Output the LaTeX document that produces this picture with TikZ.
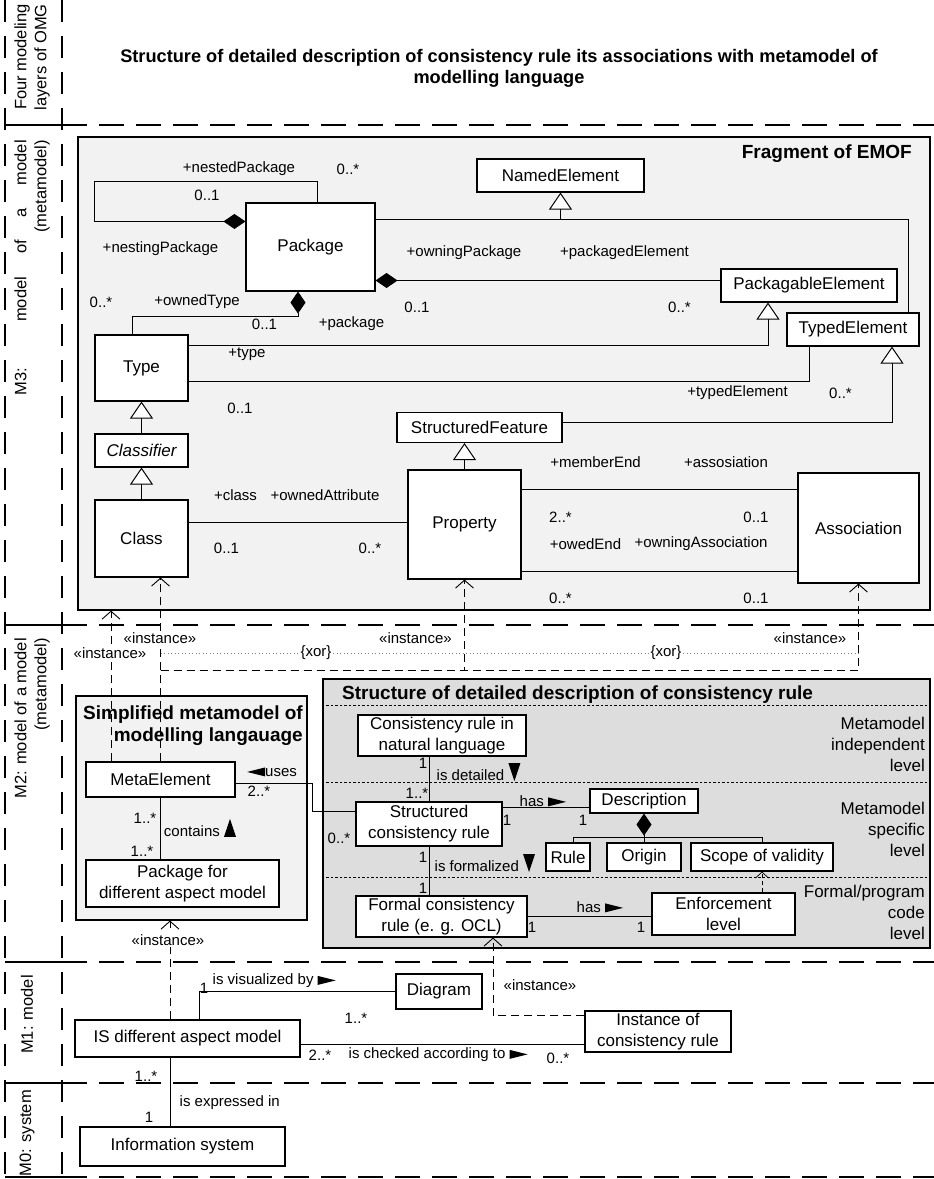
\documentclass[tikz,border=0pt]{standalone}
\usepackage{fontspec}
\setmainfont{Liberation Sans}
\usetikzlibrary{arrows.meta,positioning,calc}

\definecolor{emofgray}{RGB}{242,242,242}
\definecolor{rulegray}{RGB}{221,221,221}

% small filled pointers used beside association names
\newcommand{\pointR}{\tikz[baseline=0pt]\fill (0pt,0pt) -- (18pt,4.5pt) -- (0pt,9pt) -- cycle;}
\newcommand{\pointL}{\tikz[baseline=0pt]\fill (18pt,0pt) -- (0pt,4.5pt) -- (18pt,9pt) -- cycle;}
\newcommand{\pointD}{\tikz[baseline=0pt]\fill (0pt,17pt) -- (12pt,17pt) -- (6pt,-1pt) -- cycle;}
\newcommand{\pointU}{\tikz[baseline=0pt]\fill (0pt,0pt) -- (12pt,0pt) -- (6pt,18pt) -- cycle;}

\begin{document}
\begin{tikzpicture}[x=1pt,y=-1pt,line join=miter,
  cls/.style={draw,fill=white,line width=1.1pt,inner sep=0pt,align=center,font=\fontsize{17}{21}\selectfont},
  lbl/.style={inner sep=0.5pt,font=\fontsize{15}{18}\selectfont},
  head/.style={inner sep=0pt,align=right,font=\fontsize{19}{22}\selectfont\bfseries},
  lvl/.style={inner sep=0pt,align=right,anchor=east,font=\fontsize{17}{21}\selectfont},
  band/.style={inner sep=0pt,rotate=90,anchor=east,align=right,font=\fontsize{16.5}{20}\selectfont},
  link/.style={line width=0.9pt},
  gen/.style={link,-{Triangle[length=17pt,width=23pt,fill=white,line width=1pt]}},
  ownstart/.style={link,{Diamond[length=22pt,width=15pt]}-},
  ownend/.style={link,-{Diamond[length=22pt,width=15pt]}},
  inst/.style={link,dash pattern=on 8pt off 5pt,-{Straight Barb[length=8pt,width=18pt,line width=0.9pt]}},
  inst2/.style={line width=0.7pt,dash pattern=on 4pt off 3pt,-{Straight Barb[length=6pt,width=13pt,line width=0.7pt]}},
  xorline/.style={line width=0.8pt,gray,dash pattern=on 1pt off 2.5pt},
  levelline/.style={line width=1.1pt,dash pattern=on 2.5pt off 2pt},
  sep/.style={line width=1.4pt,dash pattern=on 25pt off 12pt},
  bandside/.style={line width=1.2pt,dash pattern=on 22pt off 14pt}]
\useasboundingbox (0,0) rectangle (934,1179);

% layers of OMG
\foreach \bx in {5,62}
  \draw[bandside] (\bx,0) -- (\bx,1177);
\foreach \sy in {125,625,962,1083,1177} {
  \draw[line width=1.2pt] (5,\sy) -- (62,\sy);
  \draw[sep] (62,\sy) -- (934,\sy);
}
\node[band] (fourlbl) at (32,4) {Four modeling\\layers of OMG};
\node[band] (m3lbl) at (32,140) {\makebox[255pt][s]{M3:\ \ model of a model}\\(metamodel)};
\node[band] (m2lbl) at (32,638) {M2: model of a model\\(metamodel)};
\node[band] (m1lbl) at (27,975) {M1: model};
\node[band] (m0lbl) at (27,1090) {M0: system};

\node[inner sep=0pt,align=center,font=\fontsize{18.2}{21}\selectfont\bfseries] (title) at (499,68)
  {Structure of detailed description of consistency rule its associations with metamodel of\\modelling language};

% M3: fragment of EMOF
\node[draw,fill=emofgray,line width=1.2pt,minimum width=852pt,minimum height=473pt,inner sep=0pt] (emof) at (504,373.5) {};
\node[head,anchor=east] (emoftitle) at (912,154) {Fragment of EMOF};

\node[cls,minimum width=167pt,minimum height=33pt] (named) at (560.5,175.5) {NamedElement};
\node[cls,minimum width=129pt,minimum height=88pt] (pkg) at (310.5,247) {Package};
\node[cls,minimum width=176pt,minimum height=33pt] (packable) at (809,285.5) {PackagableElement};
\node[cls,minimum width=132pt,minimum height=33pt] (typed) at (853,329.5) {TypedElement};
\node[cls,minimum width=93pt,minimum height=66pt] (type) at (141.5,368) {Type};
\node[cls,minimum width=93pt,minimum height=33pt,font=\fontsize{17}{21}\selectfont\itshape] (classifier) at (141.5,450.5) {Classifier};
\node[cls,minimum width=93pt,minimum height=77pt] (class) at (141.5,538.5) {Class};
\node[cls,minimum width=165pt,minimum height=30pt] (sfeat) at (479.5,427.5) {StructuredFeature};
\node[cls,minimum width=113pt,minimum height=109pt] (prop) at (464.5,524.5) {Property};
\node[cls,minimum width=121pt,minimum height=110pt] (assoc) at (858.5,528) {Association};

\draw[ownstart] ([yshift=-19pt]pkg.north west) -- ++(-151,0) -- ++(0,-40) -| ([xshift=6.5pt]pkg.north);
\draw[ownstart] ([yshift=5pt]pkg.east |- packable.west) -- ([yshift=5pt]packable.west);
\coordinate (namedjoin) at (named.south |- 0,219);
\draw[link] (pkg.east |- namedjoin) -| ([xshift=55pt]typed.north);
\draw[gen] (namedjoin) -- (named.south);
\draw[gen] ([yshift=-11pt]type.north east) -| ([xshift=-41pt]packable.south);
\draw[link] ([yshift=20pt]type.south east) -| ([xshift=-44pt]typed.south);
\draw[ownend] ([xshift=-9.5pt]type.north) -- ++(0,-18) -| ([xshift=-12.5pt]pkg.south);
\draw[gen] (classifier.north) -- (type.south);
\draw[gen] (class.north) -- (classifier.south);
\draw[gen] ([yshift=5.5pt]sfeat.east) -| ([xshift=39pt]typed.south);
\draw[gen] (prop.north) -- (prop.north |- sfeat.south);
\draw[link] ([yshift=16.5pt]class.east) -- ([yshift=16.5pt]class.east -| prop.west);
\draw[link] ([yshift=35.5pt]prop.east) -- ([yshift=35.5pt]prop.east -| assoc.west);
\draw[link] ([yshift=-46.5pt]prop.east) -- ([yshift=-46.5pt]prop.east -| assoc.west);

\node[lbl] (nestedlbl) at (239,169) {+nestedPackage};
\node[lbl] (nestedmul) at (348,169) {0..*};
\node[lbl] (nestingmul) at (207,195) {0..1};
\node[lbl] (nestinglbl) at (160.5,249) {+nestingPackage};
\node[lbl] (owninglbl) at (464,253) {+owningPackage};
\node[lbl] (packagedlbl) at (624.5,253) {+packagedElement};
\node[lbl] (owningmul) at (417,307) {0..1};
\node[lbl] (packagedmul) at (679.5,307) {0..*};
\node[lbl] (ownedtypemul) at (101,302) {0..*};
\node[lbl] (ownedtypelbl) at (197,302) {+ownedType};
\node[lbl] (packagemul) at (264.5,324) {0..1};
\node[lbl] (packagelbl) at (351.5,324) {+package};
\node[lbl] (typelbl) at (247,354) {+type};
\node[lbl] (typedlbl) at (737.5,393) {+typedElement};
\node[lbl] (typedmul) at (840.5,393) {0..*};
\node[lbl] (typemul) at (240,408) {0..1};
\node[lbl] (classlbl) at (235.5,495) {+class};
\node[lbl] (ownedattrlbl) at (325,495) {+ownedAttribute};
\node[lbl] (classmul) at (226.5,548) {0..1};
\node[lbl] (ownedattrmul) at (370,548) {0..*};
\node[lbl] (memberlbl) at (595.5,462) {+memberEnd};
\node[lbl] (assoclbl) at (726,462) {+assosiation};
\node[lbl] (membermul) at (560.5,517) {2..*};
\node[lbl] (assocmul) at (756,517) {0..1};
\node[lbl] (owedlbl) at (585.5,544) {+owedEnd};
\node[lbl] (owningassoclbl) at (701,544) {+owningAssociation};
\node[lbl] (owedmul) at (560.5,598) {0..*};
\node[lbl] (owningassocmul) at (756,598) {0..1};

% M2: metamodel
\node[draw,fill=emofgray,line width=1.1pt,minimum width=231pt,minimum height=224pt,inner sep=0pt] (simplified) at (191.5,808) {};
\node[head,anchor=east] (simpletitle) at (303,726) {Simplified metamodel of\\modelling langauage};
\node[draw,fill=rulegray,line width=1.1pt,minimum width=607pt,minimum height=269pt,inner sep=0pt] (structbox) at (626.5,813.5) {};
\node[head,anchor=west] (structtitle) at (342,695) {Structure of detailed description of consistency rule};
\foreach \dy in {27,104,199}
  \draw[levelline] ([xshift=4pt,yshift=-\dy pt]structbox.north west) -- ([xshift=-2pt,yshift=-\dy pt]structbox.north east);
\node[lvl] (lvlindep) at (925,744) {Metamodel\\independent\\level};
\node[lvl] (lvlspec) at (925,829) {Metamodel\\specific\\level};
\node[lvl] (lvlformal) at (925,912) {Formal/program\\code\\level};

\node[cls,minimum width=149pt,minimum height=35pt] (meta) at (160.5,779.5) {MetaElement};
\node[cls,minimum width=193pt,minimum height=47pt] (pkgfor) at (182.5,883.5) {Package for\\different aspect model};
\node[cls,minimum width=168pt,minimum height=41pt] (natural) at (442,735.5) {Consistency rule in\\natural language};
\node[cls,minimum width=146pt,minimum height=44pt] (structured) at (429,824) {Structured\\consistency rule};
\node[cls,minimum width=108pt,minimum height=24pt] (descr) at (644,801) {Description};
\node[cls,minimum width=44pt,minimum height=28pt] (rule) at (568,857) {Rule};
\node[cls,minimum width=74pt,minimum height=28pt] (origin) at (644,857) {Origin};
\node[cls,minimum width=142pt,minimum height=28pt] (scope) at (762,857) {Scope of validity};
\node[cls,minimum width=171pt,minimum height=41pt] (formal) at (441.5,916.5) {Formal consistency\\rule (e. g. OCL)};
\node[cls,minimum width=143pt,minimum height=42pt] (enforce) at (723.5,914) {Enforcement\\level};

\draw[link] (meta.south) -- (meta.south |- pkgfor.north);
\draw[link] ([yshift=-3.5pt]meta.east) -- ++(77,0) |- ([yshift=13pt]structured.west);
\draw[link] (structured.north |- natural.south) -- (structured.north);
\draw[link] ([yshift=17pt]structured.east) -- ([yshift=17pt]structured.east -| descr.west);
\coordinate (descjoin) at (descr.south |- 0,837);
\draw[ownstart] (descr.south) -- (descjoin);
\draw[link] ([xshift=5pt]rule.north) |- (descjoin) -| (scope.north);
\draw[link] (origin.north) -- (descjoin);
\draw[link] (structured.south) -- (structured.south |- formal.north);
\draw[link] (formal.east) -- (formal.east -| enforce.west);
\draw[inst2] (enforce.north -| scope.south) -- (scope.south);

\node[lbl] (containsmulA) at (145,818) {1..*};
\node[lbl] (containslbl) at (200,828) {contains \pointU};
\node[lbl] (containsmulB) at (142,851) {1..*};
\node[lbl] (useslbl) at (272,772) {\pointL uses};
\node[lbl] (usesmulA) at (259,791) {2..*};
\node[lbl] (usesmulB) at (339,838) {0..*};
\node[lbl] (detailmulA) at (423,763) {1};
\node[lbl,anchor=west] (detaillbl) at (436,772) {is detailed \pointD};
\node[lbl] (detailmulB) at (417,793) {1..*};
\node[lbl,anchor=west] (hasdescrlbl) at (519,801) {has \pointR};
\node[lbl] (hasdescrmulA) at (507,820) {1};
\node[lbl] (hasdescrmulB) at (583,820) {1};
\node[lbl] (formalmulA) at (423,857) {1};
\node[lbl,anchor=west] (formallbl) at (434,863) {is formalized \pointD};
\node[lbl] (formalmulB) at (423,888) {1};
\node[lbl,anchor=west] (hasenforcelbl) at (576,907) {has \pointR};
\node[lbl] (hasenforcemulA) at (532,927) {1};
\node[lbl] (hasenforcemulB) at (641,927) {1};

% instance of EMOF
\draw[inst] (meta.north) -- (meta.north |- class.south);
\draw[inst] ([xshift=-49.5pt]meta.north) -- ([xshift=-49.5pt]meta.north |- emof.south);
\coordinate (xorjoin) at (meta.north |- 0,670);
\draw[inst] (xorjoin) -| (prop.south);
\draw[inst] (xorjoin) -| (assoc.south);
\node[lbl,fill=white,inner sep=1.5pt] (xorA) at (316,653) {\{xor\}};
\node[lbl,fill=white,inner sep=1.5pt] (xorB) at (666,653) {\{xor\}};
\draw[xorline] (meta.north |- xorA) -- (xorA) -- (xorB) -- ([xshift=2pt]assoc.south |- xorB);
\node[lbl,fill=white,inner sep=1.5pt] (instA) at (110,653) {«instance»};
\node[lbl,fill=white,inner sep=1.5pt] (instB) at (160,638) {«instance»};
\node[lbl] (instC) at (415.5,638) {«instance»};
\node[lbl] (instD) at (810,638) {«instance»};

% M1: model
\node[cls,minimum width=225pt,minimum height=37pt] (ismodel) at (187.5,1038.5) {IS different aspect model};
\node[cls,minimum width=86pt,minimum height=35pt] (diagram) at (439,991.5) {Diagram};
\node[cls,minimum width=146pt,minimum height=41pt] (instrule) at (658,1031.5) {Instance of\\consistency rule};

\draw[link] ([xshift=11.5pt]ismodel.north) |- (diagram.west);
\draw[link] ([yshift=-5.5pt]ismodel.east) -- ([yshift=-5.5pt]ismodel.east -| instrule.west);
\draw[inst] ([xshift=-17.5pt]ismodel.north) -- ([xshift=-17.5pt]ismodel.north |- simplified.south);
\draw[inst] ([yshift=-5pt]instrule.north west) -| ([xshift=51.5pt]formal.south);

\node[lbl,fill=white,inner sep=1.5pt] (instE) at (168,940) {«instance»};
\node[lbl] (instF) at (540,985) {«instance»};
\node[lbl] (vismulA) at (204,988) {1};
\node[lbl,anchor=west] (vislbl) at (212,981) {is visualized by \pointR};
\node[lbl] (vismulB) at (356,1018) {1..*};
\node[lbl] (checkmulA) at (320,1055) {2..*};
\node[lbl,anchor=west] (checklbl) at (348,1055) {is checked according to \pointR};
\node[lbl] (checkmulB) at (558,1058) {0..*};

% M0: system
\node[cls,minimum width=205pt,minimum height=39pt] (infosys) at (182.5,1146.5) {Information system};
\draw[link] ([xshift=-17.5pt]ismodel.south) -- ([xshift=-17.5pt]ismodel.south |- infosys.north);
\node[lbl] (exprmulA) at (146,1076) {1..*};
\node[lbl,anchor=west] (exprlbl) at (179,1103) {is expressed in};
\node[lbl] (exprmulB) at (149,1117) {1};
\end{tikzpicture}
\end{document}
